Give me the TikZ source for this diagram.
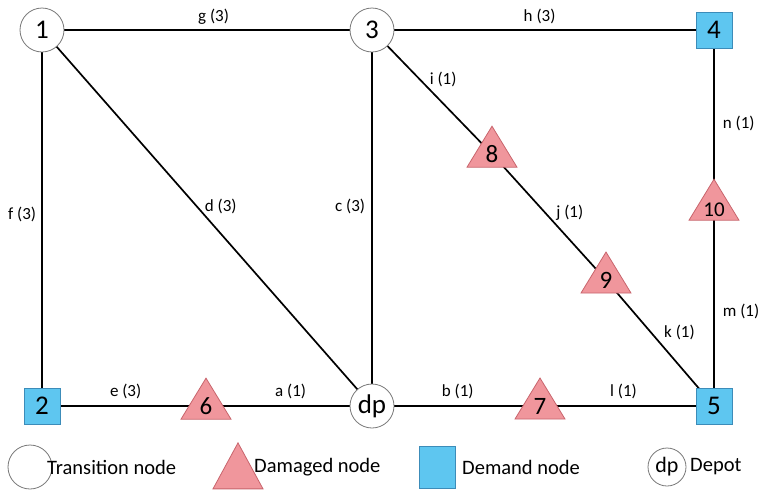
\documentclass[tikz,border=0pt]{standalone}
\usepackage{fontspec}
\setmainfont{Carlito}
\usetikzlibrary{shapes.geometric,backgrounds}

\definecolor{dmgfill}{RGB}{240,150,156}
\definecolor{dmgline}{RGB}{200,100,108}
\definecolor{demfill}{RGB}{94,198,240}
\definecolor{demline}{RGB}{60,140,185}
\definecolor{ringline}{RGB}{120,120,120}

\begin{document}
\begin{tikzpicture}[x=1pt,y=-1pt,
  trans/.style={circle,draw=ringline,line width=0.8pt,fill=white,minimum size=44pt,inner sep=0pt,
    font=\fontsize{27}{27}\selectfont},
  dmg/.style={isosceles triangle,isosceles triangle stretches,shape border rotate=90,
    draw=dmgline,line width=0.8pt,fill=dmgfill,minimum width=50pt,minimum height=41pt,inner sep=0pt,
    font=\fontsize{25}{25}\selectfont},
  dem/.style={rectangle,draw=demline,line width=0.8pt,fill=demfill,minimum width=36pt,minimum height=36pt,
    inner sep=0pt,font=\fontsize{27}{27}\selectfont},
  link/.style={line width=1.7pt,black},
  lbl/.style={font=\fontsize{17}{17}\selectfont,inner sep=2pt},
  legtext/.style={font=\fontsize{20.5}{20.5}\selectfont,anchor=west,inner sep=0pt}
]
\useasboundingbox (0,0) rectangle (764,491);

% network nodes
\node[trans] (n1) at (42,30) {1};
\node[trans] (n3) at (372,30) {3};
\node[dem]   (n4) at (714,30) {4};
\node[dem]   (n2) at (42,406) {2};
\node[dem]   (n5) at (714,406) {5};
\node[trans] (dp) at (372,406) {dp};
\node[dmg]   (n6) at (206,406) {6};
\node[dmg]   (n7) at (540,406) {7};
\node[dmg]   (n8) at (492,154) {8};
\node[dmg]   (n9) at (606,280) {9};
\node[dmg,font=\fontsize{21}{21}\selectfont] (n10) at (714,210) {10};

% links with their labels
\begin{scope}[on background layer]
\draw[link] (n1.center) -- node[lbl,above=3pt,pos=0.52] {g (3)} (n3.center);
\draw[link] (n3.center) -- node[lbl,above=3pt,pos=0.49] {h (3)} (n4.center);
\draw[link] (n1.center) -- node[lbl,left=3pt,pos=0.49] {f (3)} (n2.center);
\draw[link] (n1.center) -- node[lbl,right=5pt,pos=0.47] {d (3)} (dp.center);
\draw[link] (n3.center) -- node[lbl,left=4pt,pos=0.47] {c (3)} (dp.center);
\draw[link] (n3.center) -- node[lbl,right=7pt,pos=0.40] {i (1)} (n8.center);
\draw[link] (n8.center) -- node[lbl,right=8pt,pos=0.47] {j (1)} (n9.center);
\draw[link] (n9.center) -- node[lbl,right=10pt,pos=0.42] {k (1)} (n5.center);
\draw[link] (n4.center) -- node[lbl,right=6pt,pos=0.52] {n (1)} (n10.center);
\draw[link] (n10.center) -- node[lbl,right=6pt,pos=0.52] {m (1)} (n5.center);
\draw[link] (n2.center) -- node[lbl,above=4pt,pos=0.51] {e (3)} (n6.center);
\draw[link] (n6.center) -- node[lbl,above=4pt,pos=0.51] {a (1)} (dp.center);
\draw[link] (dp.center) -- node[lbl,above=4pt,pos=0.51] {b (1)} (n7.center);
\draw[link] (n7.center) -- node[lbl,above=4pt,pos=0.48] {l (1)} (n5.center);
\end{scope}

% legend
\node[trans] (lg1) at (30,467) {};
\node[legtext] (lt1) at (47,467) {Transition node};
\node[dmg,minimum height=46pt] (lg2) at (238,474) {};
\node[legtext] (lt2) at (254,467) {Damaged node};
\node[dem,minimum height=42pt] (lg3) at (437,467) {};
\node[legtext] (lt3) at (462,467) {Demand node};
\node[trans,minimum size=38pt,font=\fontsize{22}{22}\selectfont] (lg4) at (667,467) {dp};
\node[legtext] (lt4) at (690,467) {Depot};
\end{tikzpicture}
\end{document}
